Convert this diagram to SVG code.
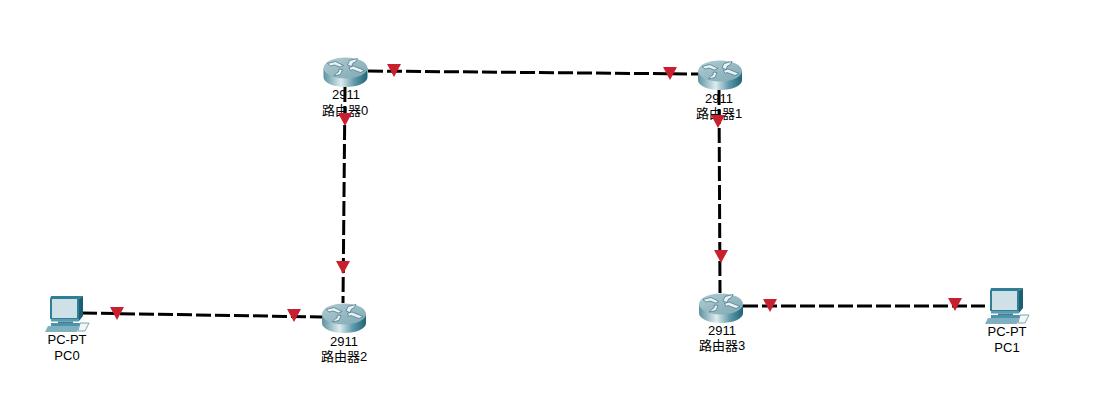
<svg xmlns="http://www.w3.org/2000/svg" width="1109" height="419" viewBox="0 0 1109 419">
<style>
.link{stroke:#000;stroke-width:3;stroke-dasharray:15 4;fill:none}
.tri{fill:#c9202f}
text{font-family:"Liberation Sans","Noto Sans CJK SC",sans-serif;font-size:13px;fill:#000;text-anchor:middle}
.wing{fill:#e8f3f5;stroke:#41707f;stroke-width:.7}
</style>
<defs>
<linearGradient id="side" x1="0" x2="1" y1="0" y2="0">
<stop offset="0" stop-color="#5d929f"/><stop offset=".4" stop-color="#dcebee"/><stop offset=".7" stop-color="#5f9aa8"/><stop offset="1" stop-color="#1f6478"/>
</linearGradient>
<linearGradient id="top" x1="0" x2="1" y1="0" y2="1">
<stop offset="0" stop-color="#b0ccd4"/><stop offset="1" stop-color="#7fa8b4"/>
</linearGradient>
<g id="router">
<path d="M0 11V20C0 26 10 30 22 30S44 26 44 20V11Z" fill="url(#side)"/>
<ellipse cx="22" cy="11" rx="22" ry="10.500" fill="url(#top)"/>
<path class="wing" d="M4 6.500L12 4.500L20 8.500L16.500 10L11 8L7 9Z"/>
<path class="wing" d="M24 8L26 3.500L34 1.500L32 5L29.500 6L28 9.500Z"/>
<path class="wing" d="M25.500 10.500L30 9L41 13.500L37 15.500L29 12.500L27 13.500Z"/>
<path class="wing" d="M19 12.500L17 17.500L10.500 19L13 16L15 15L15.500 12Z"/>
</g>
<g id="pc">
<path d="M6 0H38L34 3V23H5V3Z" fill="#2f7f97"/>
<path d="M38 0V20L34 25V3Z" fill="#1c5f75"/>
<rect x="7" y="3" width="25" height="19" fill="#cfe0e6"/>
<rect x="6" y="23" width="28" height="2.500" fill="#5d9cae"/>
<rect x="13" y="25.500" width="15" height="2" fill="#3d8196"/>
<rect x="6" y="27" width="30" height="3" fill="#4f93a8"/>
<path d="M3 30H34L32 36H0Z" fill="#7fb0bf"/>
<path d="M35 27H44L40 35H33Z" fill="#f2f6f7" stroke="#5d8f9f" stroke-width=".8"/>
</g>
<path id="mark" class="tri" d="M-7 0H7L0 13Z"/>
</defs>
<rect width="1109" height="419" fill="#fff"/>
<g id="connectors">
<path class="link" d="M368 71L698 74"/>
<path class="link" d="M345 87L343 303"/>
<path class="link" d="M719 90L720 293"/>
<path class="link" d="M82 313L322 317"/>
<path class="link" d="M743 306L985 306"/>
</g>
<g id="router0"><use href="#router" x="323.500" y="57"/><text x="346" y="99">2911</text><text x="345" y="115">路由器0</text></g>
<g id="router1"><use href="#router" x="698" y="60"/><text x="719" y="103">2911</text><text x="719" y="118">路由器1</text></g>
<g id="router2"><use href="#router" x="322" y="303"/><text x="344" y="346">2911</text><text x="344" y="361">路由器2</text></g>
<g id="router3"><use href="#router" x="699" y="293"/><text x="722" y="335">2911</text><text x="722" y="350">路由器3</text></g>
<g id="pc0"><use href="#pc" x="45" y="296"/><text x="67" y="344">PC-PT</text><text x="67" y="360">PC0</text></g>
<g id="pc1"><use href="#pc" x="985" y="288"/><text x="1007" y="336">PC-PT</text><text x="1007" y="352">PC1</text></g>
<g id="markers">
<use href="#mark" x="394" y="64"/>
<use href="#mark" x="670" y="67"/>
<use href="#mark" x="345" y="113"/>
<use href="#mark" x="718" y="115"/>
<use href="#mark" x="343" y="261"/>
<use href="#mark" x="721" y="250"/>
<use href="#mark" x="117" y="307"/>
<use href="#mark" x="294" y="309"/>
<use href="#mark" x="770" y="299"/>
<use href="#mark" x="955" y="298"/>
</g>
</svg>
